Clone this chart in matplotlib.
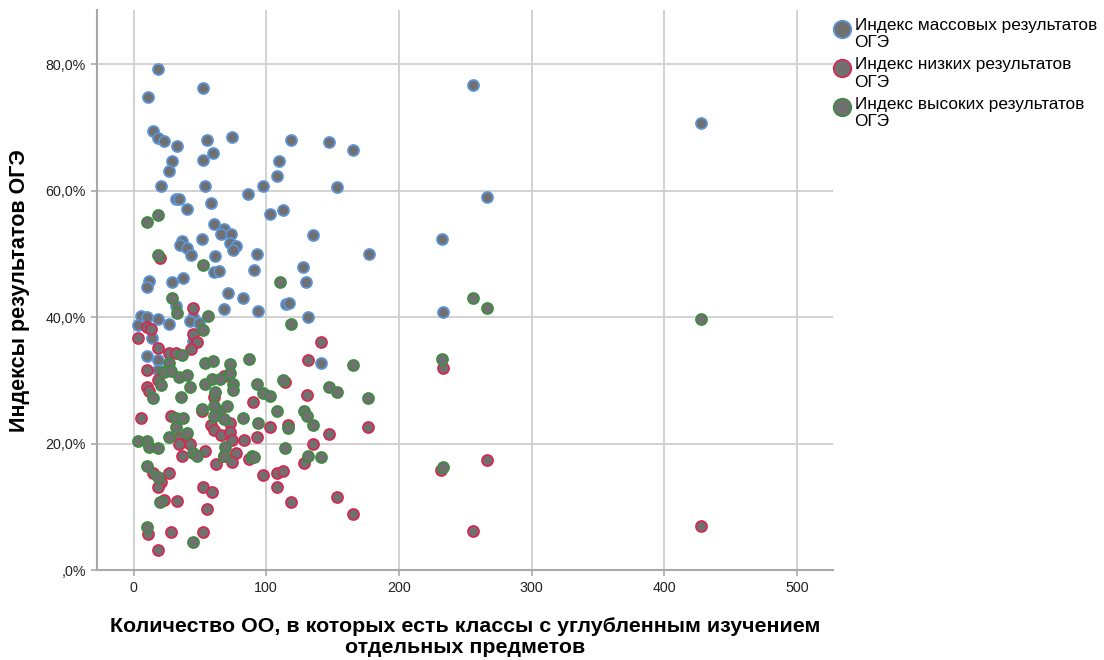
import matplotlib
matplotlib.use('Agg')
import matplotlib.pyplot as plt
from matplotlib.ticker import FuncFormatter

plt.rcParams['font.family'] = ['Liberation Sans', 'DejaVu Sans']

# Индекс массовых результатов ОГЭ (x = количество ОО, y = %)
mass_x = [18.5, 52.6, 10.8, 15, 18.8, 23, 32.6, 55.6, 74.4, 118.5, 59.6, 28.8, 52.6, 109.5,
          26.5, 108.3, 20.8, 53.6, 97.5, 86.5, 32.3, 34, 58.6, 40.6, 103.2, 112.5, 60.7, 68.2,
          66.2, 73.2, 51.4, 36.8, 34.8, 40.6, 43.1, 72.4, 76.9, 74.7, 92.7, 61.7, 60.7, 64.7,
          90.5, 11.8, 10.5, 29, 37.6, 70.9, 82.5, 32.1, 68.4, 93.8, 115, 117, 5.8, 9.8, 18.8,
          44.8, 42.6, 49.4, 26.5, 3.5, 13.8, 44.8, 10, 18.8, 18.8,
          147.4, 165.2, 153.6, 135.1, 177.2, 128, 130, 131.6, 141.1,
          255.9, 427.6, 266.7, 232.1, 232.8]
mass_y = [79.3, 76.2, 74.8, 69.4, 68.4, 67.9, 67.1, 68, 68.5, 68.1, 66, 64.7, 64.9, 64.7,
          63.1, 62.4, 60.8, 60.8, 60.8, 59.5, 58.7, 58.7, 58.1, 57.1, 56.4, 57, 54.7, 53.9,
          53.2, 53.1, 52.3, 52.1, 51.4, 51, 49.8, 51.8, 51.3, 50.7, 50, 49.7, 47.1, 47.3,
          47.5, 45.7, 44.7, 45.6, 46.2, 43.8, 43, 41.7, 41.3, 40.9, 42.1, 42.2, 40.2, 40.1, 39.7,
          40.1, 39.4, 39, 38.9, 38.7, 36.7, 36.2, 33.8, 33.3, 31.6,
          67.7, 66.5, 60.6, 53, 50, 48, 45.6, 40.1, 32.7,
          76.8, 70.8, 59, 52.4, 40.8]

# Индекс низких результатов ОГЭ
low_x = [19.8, 44.8, 10, 13.5, 3.5, 44.6, 48.1, 18.8, 26.5, 32.1, 43.1, 10, 68.2, 18.8,
         114.5, 10.5, 11.8, 60.7, 90.2, 51.4, 64.4, 28.6, 5.5, 72.7, 116.3, 103.2, 58.6, 60.7,
         66.2, 72.7, 74.4, 83.2, 92.7, 34.3, 40.6, 34.3, 42.6, 53.6, 36.8, 76.9, 61.9, 68.2,
         74.4, 86.9, 15, 26.8, 20.5, 18.8, 52.6, 59.4, 97.5, 108.3, 112.8, 108.3, 118.3, 23.1,
         32.6, 55.6, 11, 28.6, 52.6, 18.6,
         141.1, 131.4, 130.6, 147.1, 177, 135.1, 128.6, 153.6, 165.2,
         232.8, 231.6, 266.7, 255.9, 427.6]
low_y = [49.3, 41.5, 38.4, 38.1, 36.7, 37.3, 36, 35.1, 34.4, 34.4, 35, 31.6, 30.7, 30.1,
         29.8, 28.9, 28.3, 27.4, 26.6, 25.1, 25.2, 24.4, 24, 23.2, 23, 22.7, 23, 22.1,
         21.4, 21.9, 20.6, 20.6, 21, 20.9, 20.3, 19.9, 19.9, 18.9, 18, 18.5, 16.7, 18.1,
         17.1, 17.6, 15.3, 15.3, 13.9, 13.1, 13.2, 12.4, 15.1, 15.3, 15.6, 13.1, 10.8, 11.1,
         10.9, 9.7, 5.7, 6, 6, 3.1,
         36.1, 33.2, 27.7, 21.5, 22.6, 19.9, 16.9, 11.6, 8.9,
         31.9, 15.8, 17.4, 6.2, 7]

# Индекс высоких результатов ОГЭ
high_x = [18.6, 10.5, 18.6, 52.6, 110.5, 29, 33.1, 55.9, 52.6, 118.5, 36.8, 26.5, 53.6, 59.6,
          72.7, 87, 23.1, 28.6, 34.3, 40.6, 72.7, 59.1, 65.1, 53.6, 74.9, 20.5, 92.7, 112.8,
          42.6, 74.9, 61.1, 15, 35.6, 97.5, 103.2, 60.7, 70.7, 51.4, 60.7, 108.3, 32.1, 37.6,
          68.2, 82.5, 93.8, 116.3, 32.1, 40.6, 26.5, 3.5, 10.5, 11.8, 18.8, 114.5, 68.8, 45.1,
          48.1, 68.2, 89.5, 90.8, 9.8, 18.8, 20.1, 9.8, 44.8,
          147.4, 153.6, 165.2, 176.9, 128.6, 130.6, 135.1, 131.8, 141.1,
          255.9, 266.7, 427.6, 232.1, 232.8]
high_y = [56.1, 55.1, 49.8, 48.3, 45.6, 43, 40.6, 40.2, 38, 38.9, 34, 32.7, 32.7, 33.1,
          32.6, 33.4, 31.4, 31.5, 30.6, 30.8, 31.2, 30.2, 30.2, 29.5, 29.5, 29.3, 29.5, 30.1,
          28.9, 28.4, 28.1, 27.2, 27.4, 28, 27.5, 26, 25.9, 25.4, 24.4, 25.1, 24, 24,
          23.9, 24, 23.3, 22.4, 22.6, 21.6, 21, 20.4, 20.4, 19.5, 19.3, 19.3, 19.4, 18.5,
          18, 18, 18, 17.8, 16.5, 14.7, 10.7, 6.8, 4.4,
          29, 28.2, 32.5, 27.2, 25.2, 24.3, 22.9, 18.1, 17.8,
          43.1, 41.4, 39.7, 33.4, 16.3]

labels = ['Индекс массовых результатов\nОГЭ',
          'Индекс низких результатов\nОГЭ',
          'Индекс высоких результатов\nОГЭ']
edge_colors = ['#5b94d8', '#d42a52', '#3f8b42']
fill = '#707070'

fig = plt.figure(figsize=(11.04, 6.6), dpi=100)
ax = fig.add_axes([97 / 1104, 1 - 570 / 660, (833 - 97) / 1104, (570 - 10) / 660])

series = [(mass_x, mass_y), (low_x, low_y), (high_x, high_y)]
for (xs, ys), lab, ec in zip(series, labels, edge_colors):
    ax.scatter(xs, ys, s=62, c=fill, edgecolors=ec, linewidths=1.3, zorder=3, label=lab)

ax.set_xlim(-27.5, 527)
ax.set_ylim(0, 88.6)
ax.set_xticks([0, 100, 200, 300, 400, 500])
ax.set_yticks([0, 20, 40, 60, 80])
ax.yaxis.set_major_formatter(FuncFormatter(
    lambda v, p: ',0%' if v == 0 else f'{v:.1f}%'.replace('.', ',')))

ax.grid(True, color='#cfcfcf', linewidth=1.3, zorder=0)
ax.set_axisbelow(True)
for s in ['top', 'right']:
    ax.spines[s].set_visible(False)
for s in ['left', 'bottom']:
    ax.spines[s].set_color('#a8a8a8')
    ax.spines[s].set_linewidth(1.5)
ax.tick_params(axis='both', direction='out', length=4, width=1.2, color='#a8a8a8',
               labelsize=10.3, labelcolor='#222222', pad=4)

fig.text(465 / 1104, 1 - 637 / 660,
         'Количество ОО, в которых есть классы с углубленным изучением\nотдельных предметов',
         ha='center', va='center', fontsize=15.4, fontweight='bold', linespacing=1.1)
fig.text(20 / 1104, 1 - 291 / 660, 'Индексы результатов ОГЭ', rotation=90,
         ha='center', va='center', fontsize=15.5, fontweight='bold')

leg = fig.legend(loc='upper left', bbox_to_anchor=(833 / 1104, 1 - 18 / 660), frameon=False,
                 fontsize=12.4, handletextpad=0.25, labelspacing=0.4, borderpad=0,
                 borderaxespad=0, handlelength=1.0, markerscale=1.6,
                 scatterpoints=1, scatteryoffsets=[0.95])

fig.savefig('out.png', dpi=100)
